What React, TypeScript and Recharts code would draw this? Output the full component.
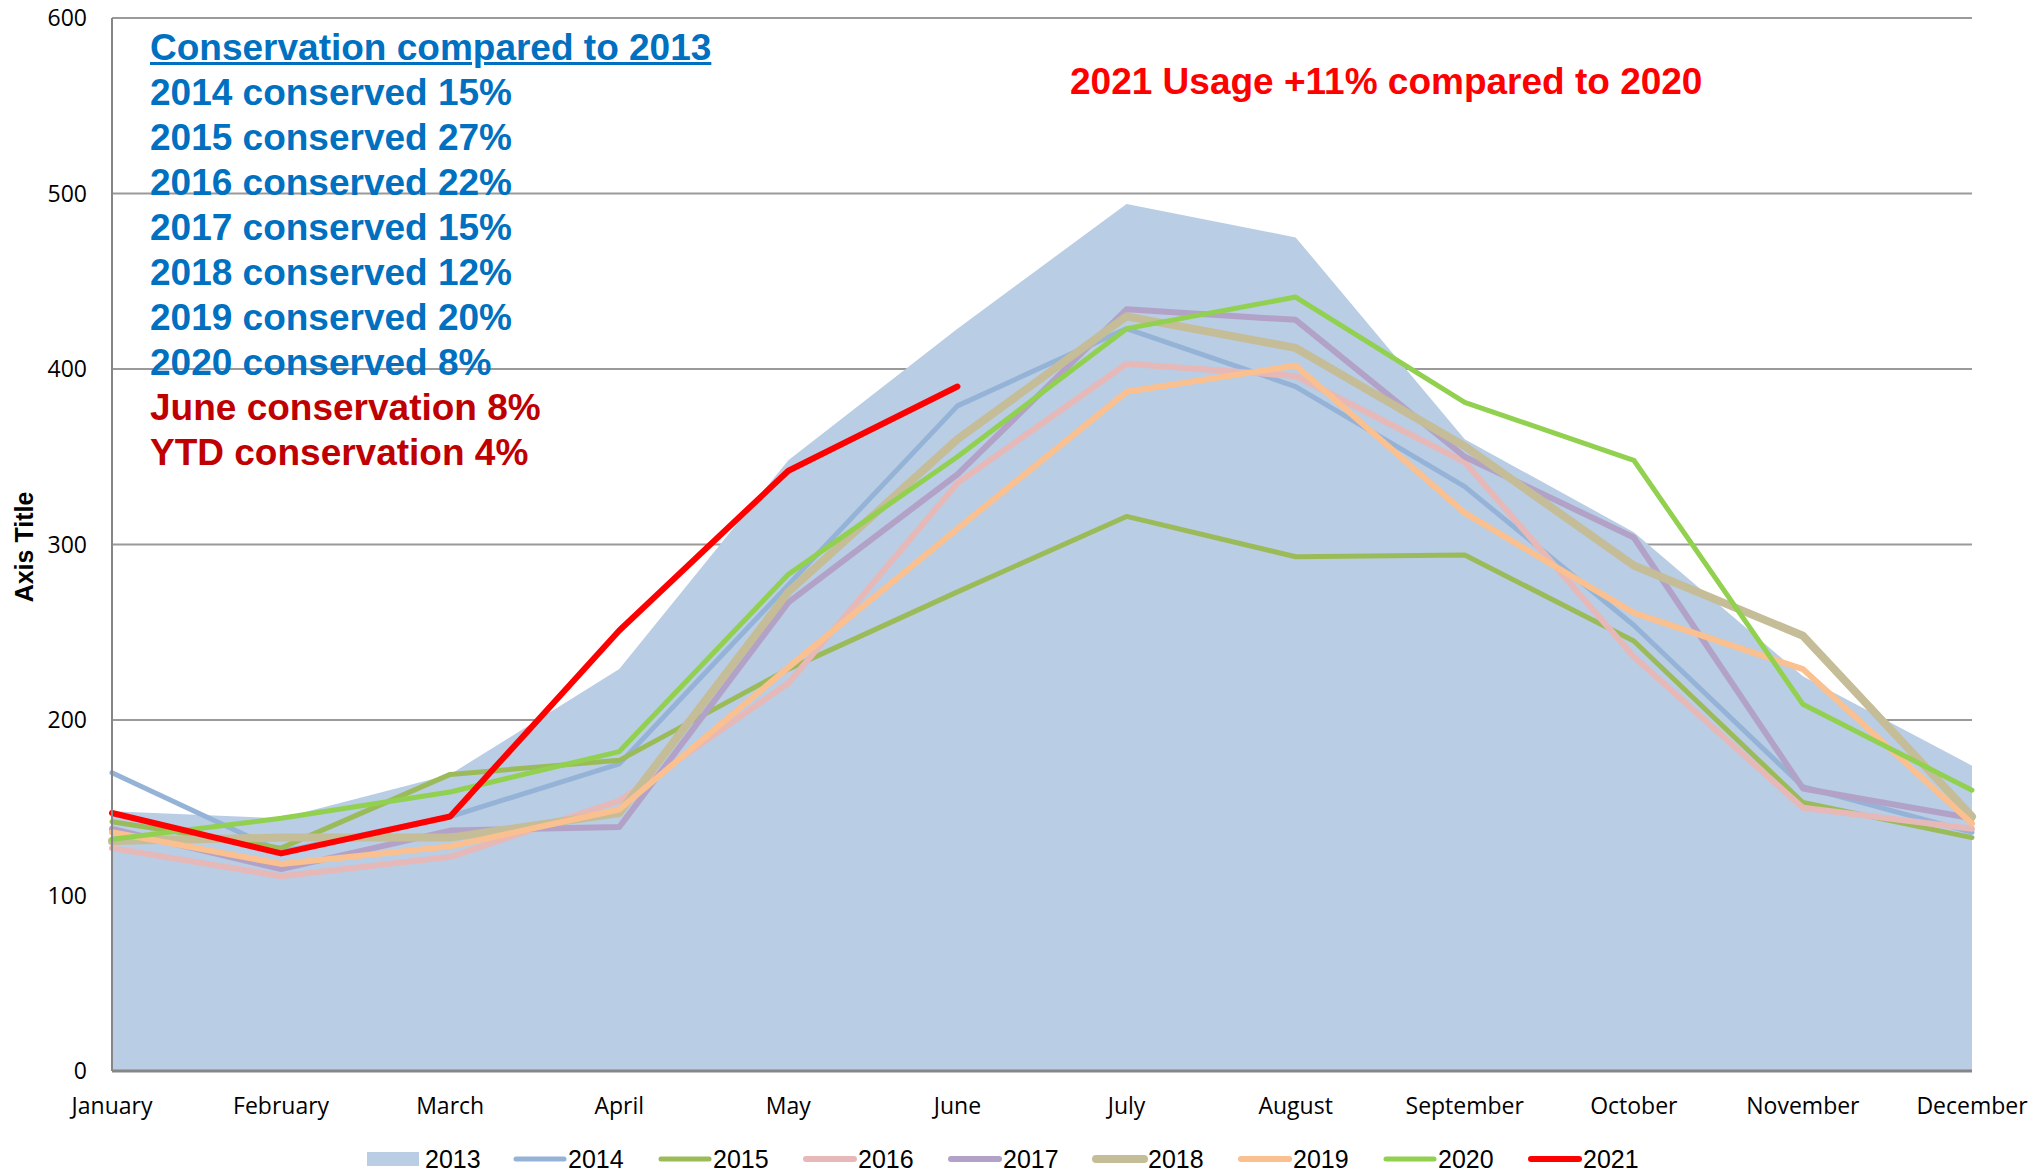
import { ComposedChart, Area, Line, XAxis, YAxis, CartesianGrid } from "recharts";

const months = [
    "January", "February", "March", "April", "May", "June",
    "July", "August", "September", "October", "November", "December",
];

const yTicks = [0, 100, 200, 300, 400, 500, 600];

const y2013 = [148, 144, 169, 229, 348, 423, 494, 475, 360, 307, 225, 174];
const y2014 = [170, 125, 145, 175, 277, 379, 423, 390, 333, 254, 162, 136];
const y2015 = [142, 127, 169, 177, 229, 273, 316, 293, 294, 245, 153, 133];
const y2016 = [127, 111, 122, 154, 221, 335, 403, 396, 347, 236, 150, 138];
const y2017 = [138, 115, 137, 139, 267, 340, 434, 428, 350, 304, 161, 144];
const y2018 = [131, 133, 133, 147, 273, 360, 430, 412, 356, 288, 248, 145];
const y2019 = [136, 118, 128, 149, 230, 309, 387, 402, 318, 261, 229, 141];
const y2020 = [132, 144, 159, 182, 283, 350, 423, 441, 381, 348, 209, 160];
const y2021 = [147, 124, 145, 251, 342, 390, null, null, null, null, null, null];

const conservationLines = [
    "2014 conserved 15%",
    "2015 conserved 27%",
    "2016 conserved 22%",
    "2017 conserved 15%",
    "2018 conserved 12%",
    "2019 conserved 20%",
    "2020 conserved 8%",
];
const redLines = ["June conservation 8%", "YTD conservation 4%"];

const data = months.map((m, i) => ({
    month: m,
    y2013: y2013[i],
    y2014: y2014[i],
    y2015: y2015[i],
    y2016: y2016[i],
    y2017: y2017[i],
    y2018: y2018[i],
    y2019: y2019[i],
    y2020: y2020[i],
    y2021: y2021[i],
}));

const lineSeries = [
    { key: "y2014", name: "2014", color: "#95B3D7", width: 5 },
    { key: "y2015", name: "2015", color: "#9BBB59", width: 5 },
    { key: "y2016", name: "2016", color: "#E6B9B8", width: 6 },
    { key: "y2017", name: "2017", color: "#B3A2C7", width: 6 },
    { key: "y2018", name: "2018", color: "#C4BD97", width: 8 },
    { key: "y2019", name: "2019", color: "#FAC090", width: 6 },
    { key: "y2020", name: "2020", color: "#92D050", width: 5 },
    { key: "y2021", name: "2021", color: "#FF0000", width: 6 },
];

const AREA_COLOR = "#B9CDE5";
const tickFont = { fontFamily: "'Open Sans', sans-serif", fontSize: 23, fill: "#000" };
const boldFont = "'Liberation Sans', Arial, sans-serif";

function ChartLegend() {
    const items = [{ name: "2013", color: AREA_COLOR, width: 0, area: true }, ...lineSeries.map((s) => ({ ...s, area: false }))];
    return (
        <>
            {items.map((it, i) => {
                const x = 367 + i * 145;
                return (
                    <div
                        key={it.name}
                        style={{ position: "absolute", left: x, top: 1147, width: 140, height: 24, display: "flex", alignItems: "center" }}
                    >
                        {it.area ? (
                            <div style={{ width: 52, height: 14, background: it.color, marginRight: 6, flex: "none" }} />
                        ) : (
                            <svg width={56} height={20} style={{ flex: "none" }}>
                                <line x1={4} y1={10} x2={52} y2={10} stroke={it.color} strokeWidth={it.width} strokeLinecap="round" />
                            </svg>
                        )}
                        <span style={{ fontFamily: boldFont, fontSize: 25, color: "#000", lineHeight: "24px" }}>{it.name}</span>
                    </div>
                );
            })}
        </>
    );
}

export default function App() {
    return (
        <div style={{ position: "absolute", left: 0, top: 0, width: 2033, height: 1172, background: "#fff", overflow: "hidden" }}>
            <ComposedChart
                width={2033}
                height={1172}
                data={data}
                margin={{ top: 18, right: 61, bottom: 41, left: 0 }}
            >
                <CartesianGrid horizontal vertical={false} stroke="#9A9A9A" strokeWidth={2} />
                <XAxis
                    dataKey="month"
                    scale="point"
                    padding={{ left: 0, right: 0 }}
                    height={60}
                    tickLine={false}
                    tickSize={0}
                    tickMargin={27}
                    interval={0}
                    axisLine={{ stroke: "#868686", strokeWidth: 3 }}
                    tick={tickFont}
                />
                <YAxis
                    domain={[0, 600]}
                    ticks={yTicks}
                    width={112}
                    tickLine={false}
                    tickSize={0}
                    tickMargin={25}
                    axisLine={{ stroke: "#868686", strokeWidth: 2 }}
                    tick={tickFont}
                />
                <Area
                    type="linear"
                    dataKey="y2013"
                    fill={AREA_COLOR}
                    fillOpacity={1}
                    stroke="none"
                    dot={false}
                    activeDot={false}
                    isAnimationActive={false}
                />
                {lineSeries.map((s) => (
                    <Line
                        key={s.key}
                        type="linear"
                        dataKey={s.key}
                        stroke={s.color}
                        strokeWidth={s.width}
                        strokeLinejoin="round"
                        strokeLinecap="round"
                        dot={false}
                        activeDot={false}
                        isAnimationActive={false}
                    />
                ))}
            </ComposedChart>

            <div
                style={{
                    position: "absolute",
                    left: 24,
                    top: 547,
                    transform: "translate(-50%, -50%) rotate(-90deg)",
                    fontFamily: "'Liberation Sans Narrow', 'Liberation Sans', sans-serif",
                    fontWeight: 700,
                    fontSize: 25,
                    whiteSpace: "nowrap",
                    color: "#000",
                }}
            >
                Axis Title
            </div>

            <div style={{ position: "absolute", left: 150, top: 25, fontFamily: boldFont, fontWeight: 700, fontSize: 37, lineHeight: "45px", whiteSpace: "nowrap" }}>
                <div style={{ color: "#0070C0", textDecoration: "underline" }}>Conservation compared to 2013</div>
                {conservationLines.map((t) => (
                    <div key={t} style={{ color: "#0070C0" }}>{t}</div>
                ))}
                {redLines.map((t) => (
                    <div key={t} style={{ color: "#C00000" }}>{t}</div>
                ))}
            </div>

            <div style={{ position: "absolute", left: 1070, top: 62, fontFamily: boldFont, fontWeight: 700, fontSize: 37, lineHeight: "40px", color: "#FF0000", whiteSpace: "nowrap" }}>
                2021 Usage +11% compared to 2020
            </div>

            <ChartLegend />
        </div>
    );
}
